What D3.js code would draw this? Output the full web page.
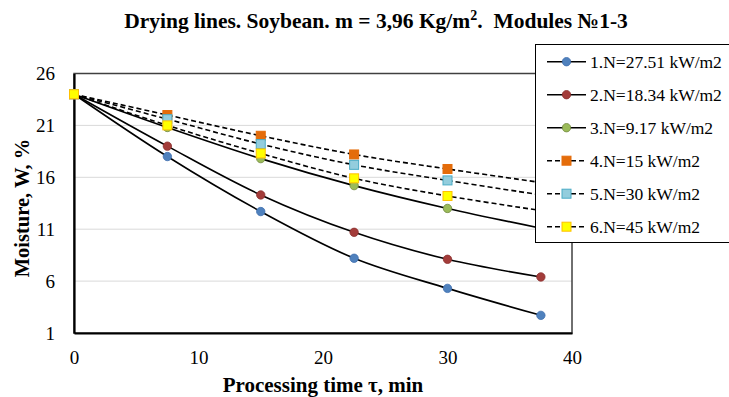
<!DOCTYPE html>
<html>
<head>
<meta charset="utf-8">
<script src="https://cdn.jsdelivr.net/npm/d3@7"></script>
<style>
  body { margin: 0; background: #fff; }
  text { font-family: "Liberation Serif", "Times New Roman", serif; fill: #000; }
</style>
</head>
<body>
<div id="chart"></div>
<script>
// data
var tau = [0, 7.5, 15, 22.5, 30, 37.5];
var w1 = [24, 18.0, 12.7, 8.2, 5.3, 2.7];
var w2 = [24, 19.0, 14.3, 10.7, 8.1, 6.4];
var w3 = [24, 20.8, 17.8, 15.2, 13.0, 11.1];
var w4 = [24, 22.0, 20.0, 18.2, 16.8, 15.5];
var w5 = [24, 21.6, 19.2, 17.2, 15.7, 14.3];
var w6 = [24, 21.0, 18.3, 15.9, 14.2, 12.8];
var seriesNames = ["1.N=27.51 kW/m2", "2.N=18.34 kW/m2", "3.N=9.17 kW/m2",
                   "4.N=15 kW/m2", "5.N=30 kW/m2", "6.N=45 kW/m2"];
var xTicks = [0, 10, 20, 30, 40];
var yTicks = [1, 6, 11, 16, 21, 26];

var svgWidth = 729;
var svgHeight = 397;

var series = [
  {name: seriesNames[0], values: w1, shape: "circle", fill: "#4F81BD", stroke: "#3F6FAE", dash: null},
  {name: seriesNames[1], values: w2, shape: "circle", fill: "#A33C3A", stroke: "#8C302E", dash: null},
  {name: seriesNames[2], values: w3, shape: "circle", fill: "#9BBB59", stroke: "#71893F", dash: null},
  {name: seriesNames[3], values: w4, shape: "square", fill: "#E46C0A", stroke: "#E46C0A", dash: "5,3"},
  {name: seriesNames[4], values: w5, shape: "square", fill: "#93CDDD", stroke: "#4BACC6", dash: "5,3"},
  {name: seriesNames[5], values: w6, shape: "square", fill: "#FFFF00", stroke: "#FFC000", dash: "5,3"}
];

var svg = d3.select("#chart")
  .append("svg")
  .attr("width", svgWidth)
  .attr("height", svgHeight);

var plot = {left: 74, right: 572, top: 73.5, bottom: 333};

var x = d3.scaleLinear().domain([0, 40]).range([plot.left, plot.right]);
var y = d3.scaleLinear().domain([1, 26]).range([plot.bottom, plot.top]);

// gridlines
svg.append("g")
  .selectAll("line")
  .data(yTicks.slice(1, -1))
  .enter()
  .append("line")
  .attr("x1", plot.left)
  .attr("x2", plot.right)
  .attr("y1", d => y(d))
  .attr("y2", d => y(d))
  .attr("stroke", "#d9d9d9")
  .attr("stroke-width", 1);

// plot frame
svg.append("rect")
  .attr("x", plot.left)
  .attr("y", plot.top)
  .attr("width", plot.right - plot.left)
  .attr("height", plot.bottom - plot.top)
  .attr("fill", "none")
  .attr("stroke", "#404040")
  .attr("stroke-width", 1.5);

// axes
var leftAxis = d3.axisLeft(y).tickValues(yTicks).tickSize(0).tickPadding(19);
var bottomAxis = d3.axisBottom(x).tickValues(xTicks).tickSize(0).tickPadding(18);

var yAxis = svg.append("g")
  .attr("transform", `translate(${plot.left}, 0)`)
  .call(leftAxis);
var xAxis = svg.append("g")
  .attr("transform", `translate(0, ${plot.bottom})`)
  .call(bottomAxis);

[xAxis, yAxis].forEach(function(ax) {
  ax.select(".domain").attr("stroke", "#000").attr("stroke-width", 2.2);
  ax.selectAll("text")
    .style("font-family", "Liberation Serif, serif")
    .style("font-size", "19px")
    .attr("fill", "#000");
});

// lines
var line = d3.line()
  .x((d, i) => x(tau[i]))
  .y(d => y(d))
  .curve(d3.curveCatmullRom.alpha(0.5));

series.forEach(function(s) {
  svg.append("path")
    .datum(s.values)
    .attr("d", line)
    .attr("fill", "none")
    .attr("stroke", "#000")
    .attr("stroke-width", 1.6)
    .attr("stroke-dasharray", s.dash);
});

function drawMarker(g, s, cx, cy) {
  if (s.shape === "circle") {
    g.append("circle")
      .attr("cx", cx).attr("cy", cy).attr("r", 4.2)
      .attr("fill", s.fill).attr("stroke", s.stroke).attr("stroke-width", 0.8);
  } else {
    g.append("rect")
      .attr("x", cx - 4.5).attr("y", cy - 4.5)
      .attr("width", 9).attr("height", 9)
      .attr("fill", s.fill).attr("stroke", s.stroke).attr("stroke-width", 1);
  }
}

series.forEach(function(s) {
  var g = svg.append("g");
  s.values.forEach(function(v, i) {
    drawMarker(g, s, x(tau[i]), y(v));
  });
});

// legend
var legend = svg.append("g");
legend.append("rect")
  .attr("x", 535.5)
  .attr("y", 44.5)
  .attr("width", 210)
  .attr("height", 198)
  .attr("fill", "#fff")
  .attr("stroke", "#000")
  .attr("stroke-width", 1);

series.forEach(function(s, i) {
  var ly = 61.7 + i * 33;
  var row = legend.append("g");
  row.append("line")
    .attr("x1", 547).attr("x2", 586)
    .attr("y1", ly).attr("y2", ly)
    .attr("stroke", "#000")
    .attr("stroke-width", 1.6)
    .attr("stroke-dasharray", s.dash);
  drawMarker(row, s, 566.5, ly);
  row.append("text")
    .attr("x", 590)
    .attr("y", ly + 6)
    .style("font-size", "17.5px")
    .text(s.name);
});

// title
var title = svg.append("text")
  .attr("x", 376)
  .attr("y", 28)
  .attr("text-anchor", "middle")
  .style("font-size", "21.5px")
  .style("font-weight", "bold");
title.append("tspan").text("Drying lines. Soybean. m = 3,96 Kg/m");
title.append("tspan").attr("dy", -8).style("font-size", "14px").text("2");
title.append("tspan").attr("dy", 8).text(".\u00a0 Modules \u21161-3");

// axis titles
svg.append("text")
  .attr("x", 323)
  .attr("y", 392)
  .attr("text-anchor", "middle")
  .style("font-size", "21px")
  .style("font-weight", "bold")
  .text("Processing time \u03c4, min");

svg.append("text")
  .attr("transform", "translate(29, 208) rotate(-90)")
  .attr("text-anchor", "middle")
  .style("font-size", "20.5px")
  .style("font-weight", "bold")
  .text("Moisture, W, %");
</script>
</body>
</html>
